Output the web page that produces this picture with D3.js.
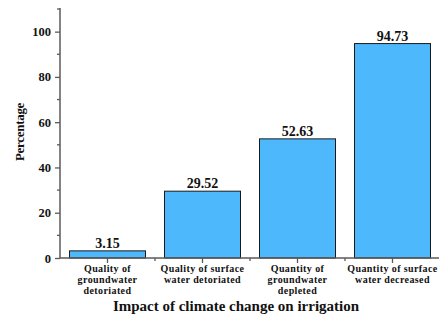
<!DOCTYPE html>
<html>
<head>
<meta charset="utf-8">
<script src="https://cdn.jsdelivr.net/npm/d3@7"></script>
<style>
  body { margin: 0; background: #fff; }
  text { font-family: "Liberation Serif", "DejaVu Serif", serif; font-weight: bold; }
</style>
</head>
<body>
<div id="chart"></div>
<script>
// Data
var categories = [
    "Quality of groundwater detoriated",
    "Quality of surface water detoriated",
    "Quantity of groundwater depleted",
    "Quantity of surface water decreased"
];
var categoryLines = [
    ["Quality of", "groundwater", "detoriated"],
    ["Quality of surface", "water detoriated"],
    ["Quantity of", "groundwater", "depleted"],
    ["Quantity of surface", "water decreased"]
];
var percentages = [3.15, 29.52, 52.63, 94.73];
var yTicks = [0, 20, 40, 60, 80, 100];
var yMinorTicks = [10, 30, 50, 70, 90, 110];

var svgWidth = 439, svgHeight = 315;
var axisColor = "#5a5a5a";

var svg = d3.select("#chart").append("svg")
    .attr("width", svgWidth)
    .attr("height", svgHeight);

// Scales
var xScale = d3.scaleBand()
    .domain(categories)
    .range([60, 440])
    .paddingInner(0.2)
    .paddingOuter(0.1);

var yScale = d3.scaleLinear()
    .domain([0, 110])
    .range([258, 9]);

// Bars
svg.selectAll("rect.bar")
    .data(percentages)
    .enter()
    .append("rect")
    .attr("class", "bar")
    .attr("x", (d, i) => xScale(categories[i]))
    .attr("y", d => yScale(d))
    .attr("width", xScale.bandwidth())
    .attr("height", d => yScale(0) - yScale(d))
    .attr("fill", "#4db8fc")
    .attr("stroke", "#1a1a1a")
    .attr("stroke-width", 1);

// Value labels
svg.selectAll("text.value")
    .data(percentages)
    .enter()
    .append("text")
    .attr("class", "value")
    .attr("x", (d, i) => xScale(categories[i]) + xScale.bandwidth() / 2)
    .attr("y", d => yScale(d) - 3)
    .attr("text-anchor", "middle")
    .attr("font-size", "14px")
    .attr("fill", "#111")
    .text(d => d.toFixed(2));

// Y axis
var yAxis = svg.append("g")
    .attr("transform", "translate(60,0)")
    .call(d3.axisLeft(yScale).tickValues(yTicks).tickSize(5).tickPadding(4));
yAxis.select(".domain").attr("stroke", axisColor).attr("stroke-width", 1.5)
    .attr("d", `M0,${yScale(0)}V${yScale(110) - 1}`);
yAxis.selectAll(".tick line").attr("stroke", axisColor).attr("stroke-width", 1.3);
yAxis.selectAll(".tick text").attr("font-size", "12.5px").attr("fill", "#111")
    .style("font-family", "Liberation Serif").style("font-weight", "bold");

svg.append("g").selectAll("line")
    .data(yMinorTicks)
    .enter()
    .append("line")
    .attr("x1", 57).attr("x2", 60)
    .attr("y1", d => yScale(d)).attr("y2", d => yScale(d))
    .attr("stroke", axisColor).attr("stroke-width", 1.3);

// X axis
var xAxis = svg.append("g")
    .attr("transform", `translate(0,${yScale(0)})`)
    .call(d3.axisBottom(xScale).tickSize(5).tickFormat(""));
xAxis.select(".domain").attr("stroke", axisColor).attr("stroke-width", 1.5)
    .attr("d", "M60,0H440");
xAxis.selectAll(".tick line").attr("stroke", axisColor).attr("stroke-width", 1.3);

// Minor x ticks between categories
svg.append("g").selectAll("line")
    .data(categories.slice(1))
    .enter()
    .append("line")
    .attr("x1", d => xScale(d) - xScale.step() * 0.1)
    .attr("x2", d => xScale(d) - xScale.step() * 0.1)
    .attr("y1", yScale(0)).attr("y2", yScale(0) + 3)
    .attr("stroke", axisColor).attr("stroke-width", 1.3);

// Multi-line category labels
var lineDy = [0, 10.5, 11.5];
var labels = svg.append("g").selectAll("text")
    .data(categoryLines)
    .enter()
    .append("text")
    .attr("text-anchor", "middle")
    .attr("font-size", "10px")
    .attr("letter-spacing", "0.4px")
    .attr("fill", "#111")
    .attr("x", (d, i) => xScale(categories[i]) + xScale.bandwidth() / 2)
    .attr("y", 272);
labels.selectAll("tspan")
    .data(d => d)
    .enter()
    .append("tspan")
    .attr("x", function() { return d3.select(this.parentNode).attr("x"); })
    .attr("dy", (d, i) => lineDy[i])
    .text(d => d);

// Axis titles
svg.append("text")
    .attr("x", 236)
    .attr("y", 311)
    .attr("text-anchor", "middle")
    .attr("font-size", "15px")
    .attr("fill", "#111")
    .text("Impact of climate change on irrigation");

svg.append("text")
    .attr("transform", "rotate(-90)")
    .attr("x", -132)
    .attr("y", 24)
    .attr("text-anchor", "middle")
    .attr("font-size", "13px")
    .attr("fill", "#111")
    .attr("letter-spacing", "-0.3px")
    .text("Percentage");
</script>
</body>
</html>
